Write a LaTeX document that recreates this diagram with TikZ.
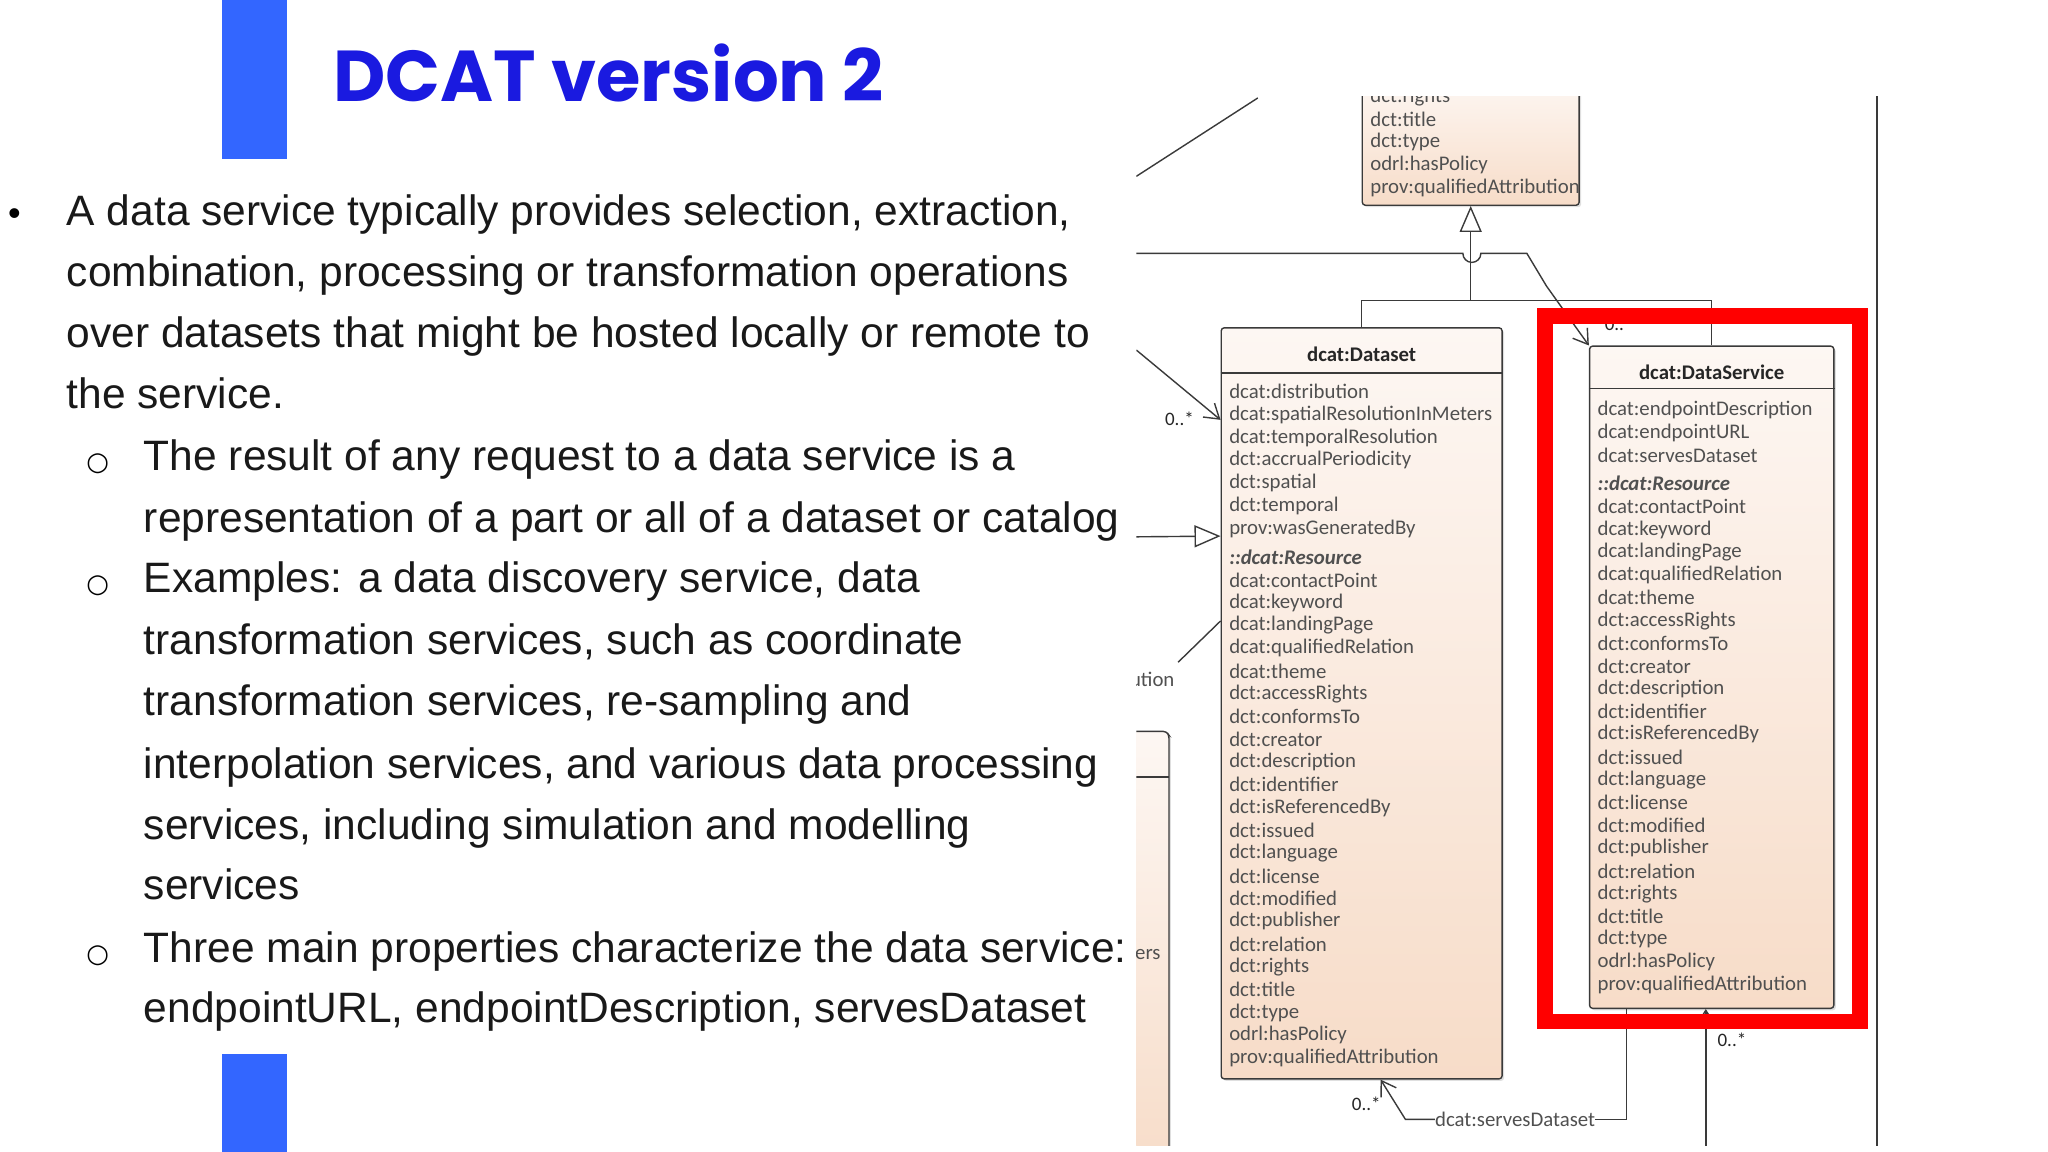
\documentclass[tikz,border=0pt]{standalone}
\usepackage{fontspec}
\setmainfont{Liberation Sans}
\newfontfamily\titlefont{Poppins}
\newfontfamily\dgfont{Carlito}
\newfontfamily\symfont{DejaVu Sans}
\usetikzlibrary{arrows.meta,calc,shadows}
\definecolor{slideblue}{HTML}{3366FF}
\definecolor{titleblue}{HTML}{1A1AE0}
\definecolor{peach}{HTML}{F7DCC8}
\definecolor{peachlight}{HTML}{FDF7F3}
\definecolor{dgtext}{HTML}{505050}
\definecolor{dgline}{HTML}{3A3A3A}
\tikzset{
  body/.style={anchor=base west,inner sep=0,font=\fontsize{42.5}{50}\selectfont,text=black!90},
  bul/.style={anchor=base west,inner sep=0,font=\symfont\fontsize{26}{30}\selectfont},
  attr/.style={anchor=west,inner sep=0,font=\dgfont\fontsize{20.8}{24}\selectfont,text=dgtext},
  attri/.style={attr,font=\dgfont\bfseries\itshape\fontsize{20.8}{24}\selectfont},
  hdr/.style={inner sep=0,font=\dgfont\bfseries\fontsize{20.8}{24}\selectfont,text=black!85},
  cls/.style={draw=dgline,line width=1.4pt,rounded corners=3pt,top color=peachlight,bottom color=peach,
     drop shadow={shadow xshift=2pt,shadow yshift=-2pt,opacity=.25},inner sep=0},
  conn/.style={draw=dgline,line width=1.4pt},
  assoc/.style={conn,-{Straight Barb[length=14pt,width=18pt,line width=1.4pt]}},
  genar/.style={conn,-{Triangle[open,length=26pt,width=22pt,fill=white,line width=1.4pt]}},
  mult/.style={inner sep=0,font=\dgfont\fontsize{19}{22}\selectfont,text=black!85},
}
\begin{document}
\begin{tikzpicture}[x=1.306pt,y=-1.306pt]
\useasboundingbox (0,0) rectangle (1568,882);
\fill[white] (0,0) rectangle (1568,882);
% blue bars
\fill[slideblue] (170,0) rectangle (220,122);
\fill[slideblue] (170,807) rectangle (220,882);
\node[anchor=base west,inner sep=0,text=titleblue,font=\titlefont\bfseries\fontsize{72}{80}\selectfont] (title) at (255,78) {DCAT version 2};
% body text
\node[anchor=base west,inner sep=0,font=\fontsize{36}{40}\selectfont] (b0) at (6,173) {•};
\node[body] (l1) at (51,173) {A data service typically provides selection, extraction,};
\node[body] (l2) at (51,219) {combination, processing or transformation operations};
\node[body] (l3) at (51,266) {over datasets that might be hosted locally or remote to};
\node[body] (l4) at (51,313) {the service.};
\node[bul] (o1) at (66,360) {○};
\node[body] (l5) at (110,360) {The result of any request to a data service is a};
\node[body] (l6) at (110,408) {representation of a part or all of a dataset or catalog};
\node[bul] (o2) at (66,454) {○};
\node[body] (l7) at (110,454) {Examples: a data discovery service, data};
\node[body] (l8) at (110,501) {transformation services, such as coordinate};
\node[body] (l9) at (110,548) {transformation services, re-sampling and};
\node[body] (l10) at (110,596) {interpolation services, and various data processing};
\node[body] (l11) at (110,643) {services, including simulation and modelling};
\node[body] (l12) at (110,689) {services};
\node[bul] (o3) at (66,737) {○};
\node[body] (l13) at (110,737) {Three main properties characterize the data service:};
\node[body] (l14) at (110,783) {endpointURL, endpointDescription, servesDataset};
% diagram
\begin{scope}
\clip (870,74) rectangle (1440,877);
\draw[conn] (870,135) -- (963,75);
\draw[conn] (1437,60) -- (1437,890);
% left partial box
\draw[cls] (850,560) -- (893,560) -- (895,563) -- (895,900) -- (850,900) -- cycle;
\draw[conn] (860,595) -- (895,595);
\node[attr] (ers) at (869,731) {ers};
\node[attr] (ution) at (865,520) {ution};
% top class
\node[cls,minimum width=216.8pt,minimum height=127pt] (res) at (1126,108.5) {};
\foreach \t [count=\i from 0] in {dct:rights,dct:title,dct:type,odrl:hasPolicy,prov:qualifiedAttribution}
  \node[attr] (r\i) at (1049,{74+\i*17.5}) {\t};
% Dataset
\node[cls,minimum width=280.8pt,minimum height=751pt] (ds) at (1042.5,538.5) {};
\node[hdr] (dsh) at (1042.5,271) {dcat:Dataset};
\draw[conn] ($(ds.north west)+(0,35)$) -- ($(ds.north east)+(0,35)$);
\foreach \t [count=\i from 0] in {dcat:distribution,dcat:spatialResolutionInMeters,dcat:temporalResolution,dct:accrualPeriodicity,dct:spatial,dct:temporal,prov:wasGeneratedBy}
  \node[attr] (da\i) at (941,{300+\i*17.5}) {\t};
\node[attri] (dres) at (941,427) {::dcat:Resource};
\foreach \t [count=\i from 0] in {dcat:contactPoint,dcat:keyword,dcat:landingPage,dcat:qualifiedRelation,dcat:theme,dct:accessRights,dct:conformsTo,dct:creator,dct:description,dct:identifier,dct:isReferencedBy,dct:issued,dct:language,dct:license,dct:modified,dct:publisher,dct:relation,dct:rights,dct:title,dct:type,odrl:hasPolicy,prov:qualifiedAttribution}
  \node[attr] (db\i) at (941,{444+\i*17.43}) {\t};
% DataService
\node[cls,minimum width=244.2pt,minimum height=662.1pt] (dsv) at (1310.5,518.5) {};
\node[hdr] (dsvh) at (1310.5,285) {dcat:DataService};
\draw[conn] ($(dsv.north west)+(0,33)$) -- ($(dsv.north east)+(0,33)$);
\foreach \t [count=\i from 0] in {dcat:endpointDescription,dcat:endpointURL,dcat:servesDataset}
  \node[attr] (sa\i) at (1223,{314+\i*17.5}) {\t};
\node[attri] (sres) at (1223,370) {::dcat:Resource};
\foreach \t [count=\i from 0] in {dcat:contactPoint,dcat:keyword,dcat:landingPage,dcat:qualifiedRelation,dcat:theme,dct:accessRights,dct:conformsTo,dct:creator,dct:description,dct:identifier,dct:isReferencedBy,dct:issued,dct:language,dct:license,dct:modified,dct:publisher,dct:relation,dct:rights,dct:title,dct:type,odrl:hasPolicy,prov:qualifiedAttribution}
  \node[attr] (sb\i) at (1223,{388+\i*17.43}) {\t};
% generalization
\coordinate (gj) at (1126,230);
\draw[conn] (ds.north) |- (gj) -| (dsv.north);
\draw[genar] (gj) -- (res.south);
% association with hops
\draw[assoc] (870,194) -- (1120,194) arc[start angle=180,end angle=360,radius=9pt] -- (1169,194) -- (1184,219) -- (dsv.north west);
\node[mult] (m1) at (1236,248) {0..};
% left connectors
\draw[assoc] (870,268) -- ($(ds.north west)+(0,71)$);
\node[mult] (m2) at (903,321) {0..*};
\draw[genar] (870,411) -- ($(ds.north west)+(0,160)$);
\draw[conn] (902,507) -- ($(ds.north west)+(0,225)$);
% bottom
\node[attr,anchor=center] (sd) at (1160,857) {dcat:servesDataset};
\draw[conn] ($(dsv.south west)+(29,0)$) |- (sd.east);
\draw[assoc] (sd.west) -- (1076,857) -- ($(ds.south)+(14.5,0)$);
\node[mult] (m3) at (1046,845) {0..*};
\draw[assoc] (1306,890) -- ($(dsv.south)+(-4.5,0)$);
\node[mult] (m4) at (1326,796) {0..*};
\end{scope}
% highlight
\node[draw=red,line width=15.7pt,minimum width=314.7pt,minimum height=705.2pt,inner sep=0] (hl) at (1303.5,512) {};
\end{tikzpicture}
\end{document}
